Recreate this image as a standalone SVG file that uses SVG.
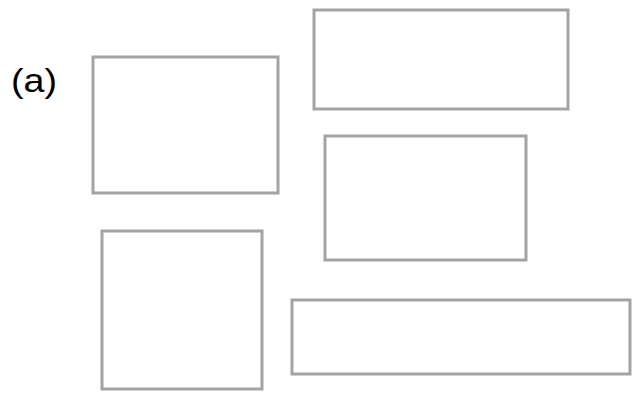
<svg xmlns="http://www.w3.org/2000/svg" width="632" height="394" viewBox="0 0 632 394">
<style>
.box{fill:#fff;stroke:#a3a3a3;stroke-width:3}
.lbl{font-family:"Liberation Sans",Arial,sans-serif;font-size:33px;fill:#000}
</style>
<rect width="632" height="394" fill="#fff"/>
<text class="lbl" x="11" y="92" textLength="46" lengthAdjust="spacingAndGlyphs">(a)</text>
<g id="box1"><rect class="box" x="93" y="57" width="185" height="136"/></g>
<g id="box2"><rect class="box" x="314" y="10" width="254" height="99"/></g>
<g id="box3"><rect class="box" x="325" y="136" width="201" height="124"/></g>
<g id="box4"><rect class="box" x="102" y="231" width="160" height="158"/></g>
<g id="box5"><rect class="box" x="292" y="300" width="338" height="74"/></g>
<g id="connectors"></g>
</svg>
